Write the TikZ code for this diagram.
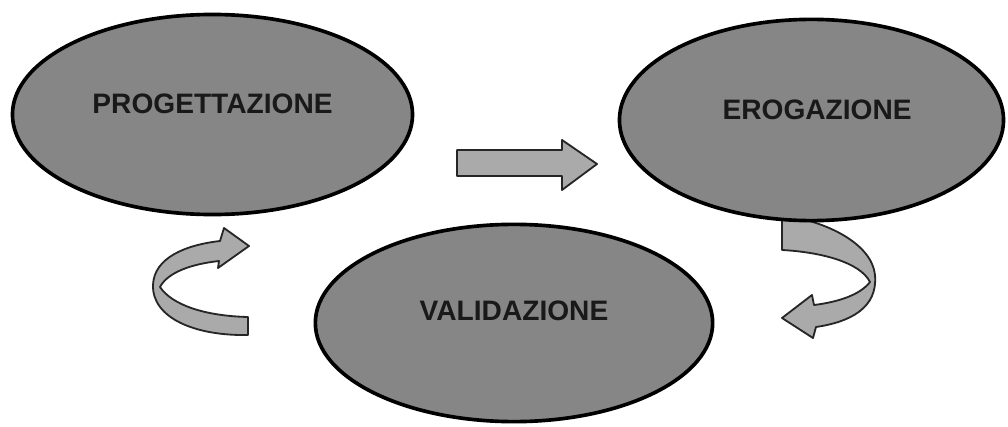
\documentclass[tikz,border=0pt]{standalone}
\usepackage{fontspec}
\setmainfont{Liberation Sans}
\usetikzlibrary{shapes.geometric}
\definecolor{blobgray}{RGB}{134,134,134}
\definecolor{arrowgray}{RGB}{170,170,170}
\begin{document}
\begin{tikzpicture}[x=0.025cm, y=-0.025cm,
	blob/.style = {ellipse, draw = black, line width = 2.6pt, fill = blobgray, inner sep = 0pt},
	word/.style = {font = \fontsize{20}{24}\selectfont\bfseries, text = black!90},
	band/.style = {draw = black!85, line width = 1.3pt, fill = arrowgray, line join = round}]

	\useasboundingbox (0,0) rectangle (1008,427);

	\draw [band] 	(248,335) .. controls (195,336) and (152,318) .. (153,285)
			.. controls (154,258) and (185,245) .. (220,241) --
			(224,228) --
			(249,246) --
			(218,268) --
			(219,261) .. controls (192,264) and (168,272) .. (160,287)
			.. controls (172,305) and (205,316) .. (248,317) -- cycle;

	\draw [band] 	(782,215) --
			(782,250) .. controls (820,252) and (860,262) .. (870,282)
			.. controls (860,295) and (838,302) .. (814,305) --
			(812,295) --
			(782,318) --
			(813,338) --
			(816,327) .. controls (850,322) and (878,308) .. (875,275)
			.. controls (872,245) and (830,222) .. (782,215) -- cycle;

	\draw [band] 	(457,150) --
			(562,150) --
			(562,140) --
			(597,164) --
			(562,190) --
			(562,176) --
			(457,176) -- cycle;

	\node [blob, minimum width = 10.0cm, minimum height = 5.0cm] (prog) at (212.5,114.5) {};
	\node [blob, minimum width = 9.6cm, minimum height = 5.03cm] (erog) at (811.5,120) {};
	\node [blob, minimum width = 9.93cm, minimum height = 4.93cm] (valid) at (514,323) {};

	\node [word] (progt) at ([yshift = 0.26cm]prog.center) {PROGETTAZIONE};
	\node [word] (erogt) at ([xshift = 0.14cm, yshift = 0.25cm]erog.center) {EROGAZIONE};
	\node [word] (validt) at ([yshift = 0.3cm]valid.center) {VALIDAZIONE};

\end{tikzpicture}
\end{document}
